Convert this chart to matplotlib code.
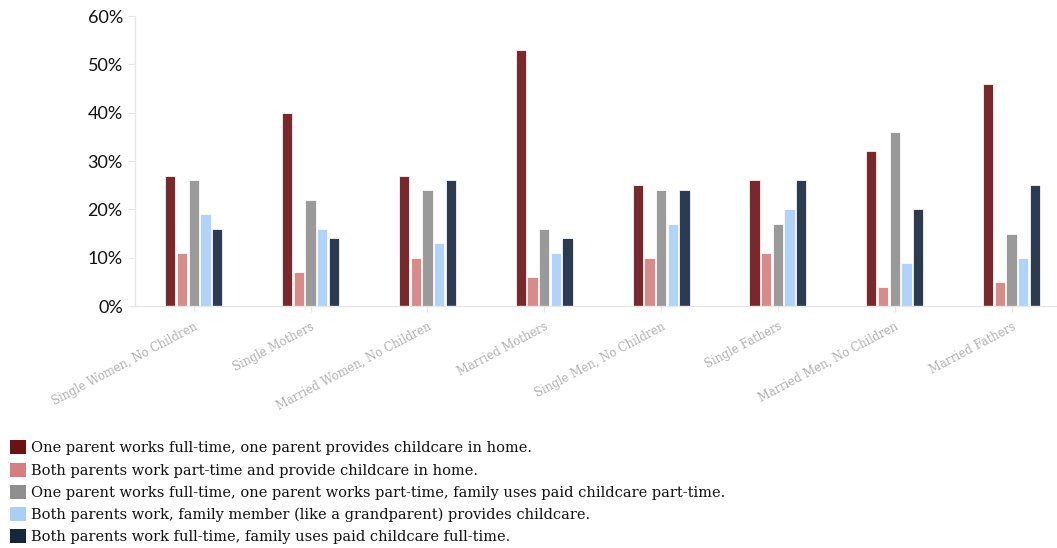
import numpy as np
import matplotlib
matplotlib.use("Agg")
import matplotlib.pyplot as plt
from matplotlib.patches import Patch

categories = ["Single Women, No Children", "Single Mothers", "Married Women, No Children",
              "Married Mothers", "Single Men, No Children", "Single Fathers",
              "Married Men, No Children", "Married Fathers"]

series_names = [
    "One parent works full-time, one parent provides childcare in home.",
    "Both parents work part-time and provide childcare in home.",
    "One parent works full-time, one parent works part-time, family uses paid childcare part-time.",
    "Both parents work, family member (like a grandparent) provides childcare.",
    "Both parents work full-time, family uses paid childcare full-time.",
]

one_home = [27, 40, 27, 53, 25, 26, 32, 46]
both_part = [11, 7, 10, 6, 10, 11, 4, 5]
paid_part = [26, 22, 24, 16, 24, 17, 36, 15]
family_care = [19, 16, 13, 11, 17, 20, 9, 10]
paid_full = [16, 14, 26, 14, 24, 26, 20, 25]

colors = ["#6b1214", "#d47f7f", "#8f8f8f", "#a9cff7", "#16263d"]

fig = plt.figure(figsize=(10.57, 5.48), dpi=100)
ax = fig.add_axes([0.128, 0.4416, 0.871, 0.5292])

x = np.arange(len(categories))
step = 0.1
width = 0.088
all_series = [one_home, both_part, paid_part, family_care, paid_full]
for i, vals in enumerate(all_series):
    ax.bar(x + (i - 2) * step, vals, width, color=colors[i], alpha=0.9,
           edgecolor="white", linewidth=0.6, zorder=2)

ax.set_ylim(0, 60)
ax.set_xlim(-0.5, 7.38)
ax.set_yticks(range(0, 61, 10))
ax.set_yticklabels([f"{v}%" for v in range(0, 61, 10)], family="Lato",
                   fontsize=13, color="#111111")
ax.set_xticks(x)
ax.set_xticklabels(categories, rotation=28, ha="right", rotation_mode="anchor",
                   family="DejaVu Serif", fontsize=8.3, color="#b0b0b0")

for s in ["top", "right"]:
    ax.spines[s].set_visible(False)
for s in ["left", "bottom"]:
    ax.spines[s].set_color("#e6e6e6")
    ax.spines[s].set_linewidth(1)
ax.tick_params(axis="y", length=5, color="#e6e6e6", pad=4)
ax.tick_params(axis="x", length=4, color="#e6e6e6", pad=6)

handles = [Patch(facecolor=c, edgecolor="none") for c in colors]
fig.legend(handles, series_names, loc="upper left", bbox_to_anchor=(0.0, 0.215),
           frameon=False, prop={"family": "DejaVu Serif", "size": 10.5},
           handlelength=1.1, handleheight=1.1, handletextpad=0.35,
           labelspacing=0.5, borderaxespad=0.3, labelcolor="#111111")

fig.savefig("out.png", dpi=100)
